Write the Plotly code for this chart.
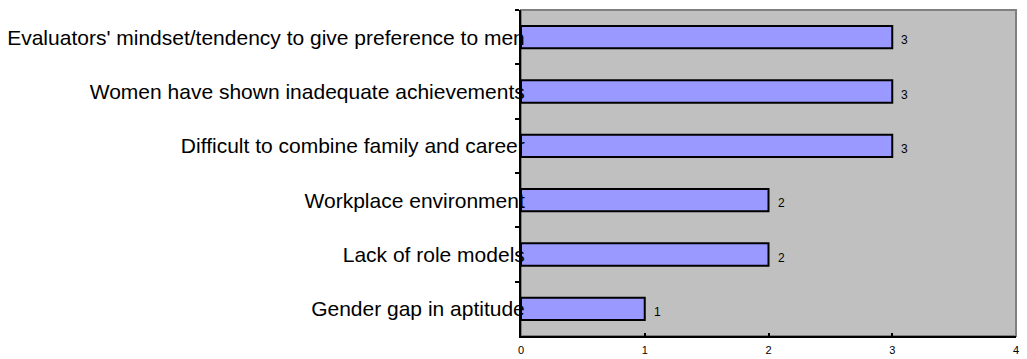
import plotly.graph_objects as go

# Reasons listed top to bottom, with the number of responses for each
categories = [
    "Evaluators' mindset/tendency to give preference to men",
    "Women have shown inadequate achievements",
    "Difficult to combine family and career",
    "Workplace environment",
    "Lack of role models",
    "Gender gap in aptitude",
]
counts = [3, 3, 3, 2, 2, 1]
x_ticks = [0, 1, 2, 3, 4]

FONT = "Liberation Sans, Arial, sans-serif"

fig = go.Figure()
fig.add_trace(go.Bar(
    x=counts,
    y=categories,
    orientation="h",
    width=0.41,
    marker=dict(color="#9999FF", line=dict(color="black", width=2)),
    hoverinfo="x+y",
))

# value labels just past the end of each bar
for cat, val in zip(categories, counts):
    fig.add_annotation(
        x=val, y=cat, xref="x", yref="y",
        text=str(val), showarrow=False,
        xanchor="left", yanchor="middle",
        xshift=7, yshift=-3,
        font=dict(family=FONT, size=12, color="black"),
    )

# grey frame on the top and right of the plotting area
fig.add_shape(
    type="rect", xref="paper", yref="paper",
    x0=0, x1=1, y0=0, y1=1,
    line=dict(color="#808080", width=2),
    layer="below",
)

fig.update_layout(
    width=1027, height=359,
    margin=dict(l=521, r=11, t=10, b=23),
    paper_bgcolor="white",
    plot_bgcolor="#C0C0C0",
    showlegend=False,
    font=dict(family=FONT, color="black"),
    xaxis=dict(
        range=[0, 4],
        automargin=False,
        tickvals=x_ticks,
        ticktext=[str(t) for t in x_ticks],
        ticks="inside", ticklen=3, tickwidth=2, tickcolor="black",
        showline=True, linecolor="black", linewidth=2,
        showgrid=False, zeroline=False,
        ticklabelstandoff=3,
        tickfont=dict(family=FONT, size=11, color="black"),
    ),
    yaxis=dict(
        type="category",
        automargin=False,
        categoryorder="array", categoryarray=categories,
        autorange="reversed",
        tickson="boundaries",
        ticks="outside", ticklen=4, tickwidth=2, tickcolor="black",
        showline=True, linecolor="black", linewidth=2,
        showgrid=False, zeroline=False,
        ticklabelstandoff=-10,
        tickfont=dict(family=FONT, size=21, color="black"),
    ),
)

fig.write_html("out.html")
